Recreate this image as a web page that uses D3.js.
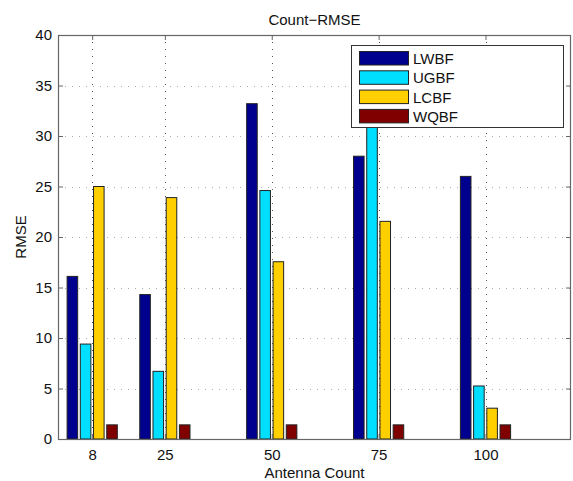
<html>
<script src="https://d3js.org/d3.v7.min.js"></script>
<style>
  body { margin: 0; background: #fff; }
  text { font-family: Arial, "Liberation Sans", sans-serif; }
</style>
<body>
<svg id="chart" width="573" height="481"></svg>
<script>
// data
var counts = [8, 25, 50, 75, 100];
var series = ["LWBF", "UGBF", "LCBF", "WQBF"];
var lwbf = [16.1, 14.3, 33.2, 28.0, 26.0];
var ugbf = [9.4, 6.7, 24.6, 33.0, 5.25];
var lcbf = [25.0, 23.9, 17.55, 21.55, 3.05];
var wqbf = [1.4, 1.4, 1.4, 1.4, 1.4];
var yTicks = [0, 5, 10, 15, 20, 25, 30, 35, 40];
var colors = ["#00008f", "#00dfff", "#ffcf00", "#800000"];

var values = [lwbf, ugbf, lcbf, wqbf];

var svg = d3.select("#chart");
// plot box (window.top is taken, so prefixed names)
var pLeft = 58, pRight = 571, pTop = 35, pBottom = 439;

var x = d3.scaleLinear().domain([0, 120]).range([pLeft, pRight]);
var y = d3.scaleLinear().domain([0, 40]).range([pBottom, pTop]);

// matlab style grouped bar widths
var spacing = 17;
var groupW = spacing * series.length / (series.length + 1.5);
var slot = groupW / series.length;
var barW = slot * 0.8;

// grid
svg.append("g").selectAll("line").data(yTicks.slice(1, -1)).enter().append("line")
  .attr("x1", pLeft).attr("x2", pRight)
  .attr("y1", function(d){ return Math.round(y(d)) + 0.5; }).attr("y2", function(d){ return Math.round(y(d)) + 0.5; })
  .attr("stroke", "#aaa").attr("stroke-width", 1).attr("stroke-dasharray", "1,6");
svg.append("g").selectAll("line").data(counts).enter().append("line")
  .attr("x1", function(d){ return Math.round(x(d)) + 0.5; }).attr("x2", function(d){ return Math.round(x(d)) + 0.5; })
  .attr("y1", pTop).attr("y2", pBottom)
  .attr("stroke", "#555").attr("stroke-width", 1).attr("stroke-dasharray", "1,6");

// bars
series.forEach(function(s, i) {
  var off = (i - (series.length - 1) / 2) * slot;
  svg.append("g").selectAll("rect").data(counts).enter().append("rect")
    .attr("x", function(d){ return x(d + off - barW / 2); })
    .attr("y", function(d, j){ return y(values[i][j]); })
    .attr("width", x(barW) - x(0))
    .attr("height", function(d, j){ return y(0) - y(values[i][j]); })
    .attr("fill", colors[i])
    .attr("stroke", "#222").attr("stroke-width", 1);
});

// axes box
svg.append("rect").attr("x", pLeft + 0.5).attr("y", pTop + 0.5)
  .attr("width", pRight - pLeft - 1).attr("height", pBottom - pTop)
  .attr("fill", "none").attr("stroke", "#666").attr("stroke-width", 1.2);

var yAxis = d3.axisLeft(y).tickValues(yTicks).tickSize(-5).tickPadding(6);
var gy = svg.append("g").attr("transform", "translate(" + pLeft + ",0)").call(yAxis);
var yAxisR = d3.axisRight(y).tickValues(yTicks).tickSize(-5).tickFormat("");
var gyr = svg.append("g").attr("transform", "translate(" + pRight + ",0)").call(yAxisR);
var xAxis = d3.axisBottom(x).tickValues(counts).tickSize(-5).tickPadding(10);
var gx = svg.append("g").attr("transform", "translate(0," + pBottom + ")").call(xAxis);
var xAxisT = d3.axisTop(x).tickValues(counts).tickSize(-5).tickFormat("");
var gxt = svg.append("g").attr("transform", "translate(0," + pTop + ")").call(xAxisT);

[gy, gyr, gx, gxt].forEach(function(g) {
  g.select(".domain").remove();
  g.selectAll("line").attr("stroke", "#666");
  g.selectAll("text").attr("font-size", 15).attr("fill", "#111")
    .style("font-family", "Arial, 'Liberation Sans', sans-serif");
});

// title and labels
svg.append("text").attr("x", (pLeft + pRight) / 2).attr("y", 25)
  .attr("text-anchor", "middle").attr("font-size", 15).attr("fill", "#111").text("Count\u2212RMSE");
svg.append("text").attr("x", (pLeft + pRight) / 2).attr("y", 478)
  .attr("text-anchor", "middle").attr("font-size", 15).attr("fill", "#111").text("Antenna Count");
svg.append("text").attr("transform", "translate(26," + ((pTop + pBottom) / 2) + ") rotate(-90)")
  .attr("text-anchor", "middle").attr("font-size", 15).attr("fill", "#111").text("RMSE");

// legend
var lg = svg.append("g").attr("transform", "translate(351,45)");
lg.append("rect").attr("x", 0.5).attr("y", 0.5).attr("width", 212).attr("height", 82)
  .attr("fill", "#fff").attr("stroke", "#333").attr("stroke-width", 1);
var items = lg.selectAll("g.item").data(series).enter().append("g")
  .attr("transform", function(d, i){ return "translate(8," + (6 + i * 19.3) + ")"; });
items.append("rect").attr("x", 0.5).attr("y", 0.5).attr("width", 49).attr("height", 13.5)
  .attr("fill", function(d, i){ return colors[i]; })
  .attr("stroke", "#222").attr("stroke-width", 1);
items.append("text").attr("x", 54).attr("y", 13).attr("font-size", 15).attr("fill", "#111")
  .text(function(d){ return d; });
</script>
</body>
</html>
